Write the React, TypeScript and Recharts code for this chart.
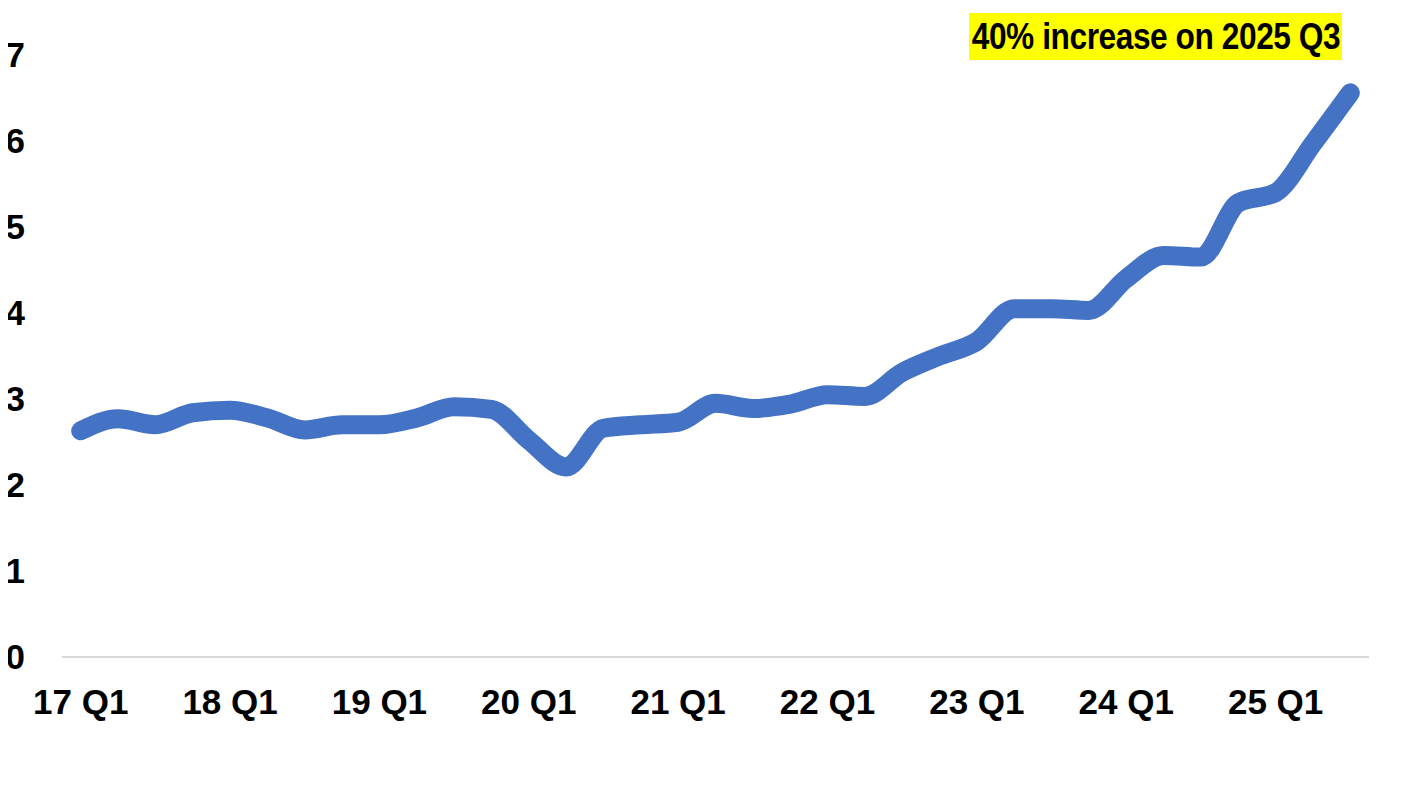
import { LineChart, Line, XAxis, YAxis } from 'recharts';

const quarters = [
  '17 Q1', '17 Q2', '17 Q3', '17 Q4',
  '18 Q1', '18 Q2', '18 Q3', '18 Q4',
  '19 Q1', '19 Q2', '19 Q3', '19 Q4',
  '20 Q1', '20 Q2', '20 Q3', '20 Q4',
  '21 Q1', '21 Q2', '21 Q3', '21 Q4',
  '22 Q1', '22 Q2', '22 Q3', '22 Q4',
  '23 Q1', '23 Q2', '23 Q3', '23 Q4',
  '24 Q1', '24 Q2', '24 Q3', '24 Q4',
  '25 Q1', '25 Q2', '25 Q3',
];

const values = [
  2.63, 2.77, 2.7, 2.84,
  2.87, 2.78, 2.64, 2.7,
  2.7, 2.78, 2.91, 2.88,
  2.52, 2.21, 2.66, 2.7,
  2.73, 2.95, 2.89, 2.94,
  3.05, 3.03, 3.31, 3.5,
  3.67, 4.05, 4.05, 4.03,
  4.4, 4.67, 4.65, 5.28,
  5.4, 5.97, 6.56,
];

const yTicks = [0, 1, 2, 3, 4, 5, 6, 7];

const note = '40% increase on 2025 Q3';

const data = quarters.map((q, i) => ({ quarter: q, value: values[i] }));

const tickStyle = {
  fill: '#000',
  fontSize: 35,
  fontWeight: 700,
  fontFamily: "'Liberation Sans', Arial, sans-serif",
};

export default function App() {
  return (
    // cancel the body margin so the svg covers the whole page
    <div style={{ position: 'relative', width: 1414, height: 788, margin: -8 }}>
      <LineChart
        width={1414}
        height={788}
        data={data}
        margin={{ top: 55, right: 45, left: 0, bottom: 71 }}
      >
        <XAxis
          dataKey="quarter"
          interval={3}
          height={60}
          padding={{ left: 18.7, right: 18.7 }}
          axisLine={{ stroke: '#d9d9d9', strokeWidth: 2 }}
          tickLine={false}
          tickSize={0}
          tickMargin={32}
          tick={tickStyle}
        />
        <YAxis
          domain={[0, 7]}
          ticks={yTicks}
          width={62}
          axisLine={false}
          tickLine={false}
          tickSize={0}
          tickMargin={37}
          tick={tickStyle}
        />
        <Line
          type="monotone"
          dataKey="value"
          stroke="#4472C4"
          strokeWidth={19}
          strokeLinecap="round"
          strokeLinejoin="round"
          dot={false}
          activeDot={false}
          isAnimationActive={false}
        />
      </LineChart>
      {/* yellow callout, narrowed to mimic a condensed face */}
      <div
        style={{
          position: 'absolute',
          left: 969,
          top: 13,
          width: 373,
          height: 47,
          background: '#ffff00',
          overflow: 'hidden',
        }}
      >
        <span
          style={{
            position: 'absolute',
            left: '50%',
            top: 0,
            lineHeight: '47px',
            whiteSpace: 'nowrap',
            transform: 'translateX(-50%) scaleX(0.88)',
            fontFamily: "'Liberation Sans', Arial, sans-serif",
            fontWeight: 700,
            fontSize: 36,
            color: '#000',
            letterSpacing: -0.5,
          }}
        >
          {note}
        </span>
      </div>
    </div>
  );
}
